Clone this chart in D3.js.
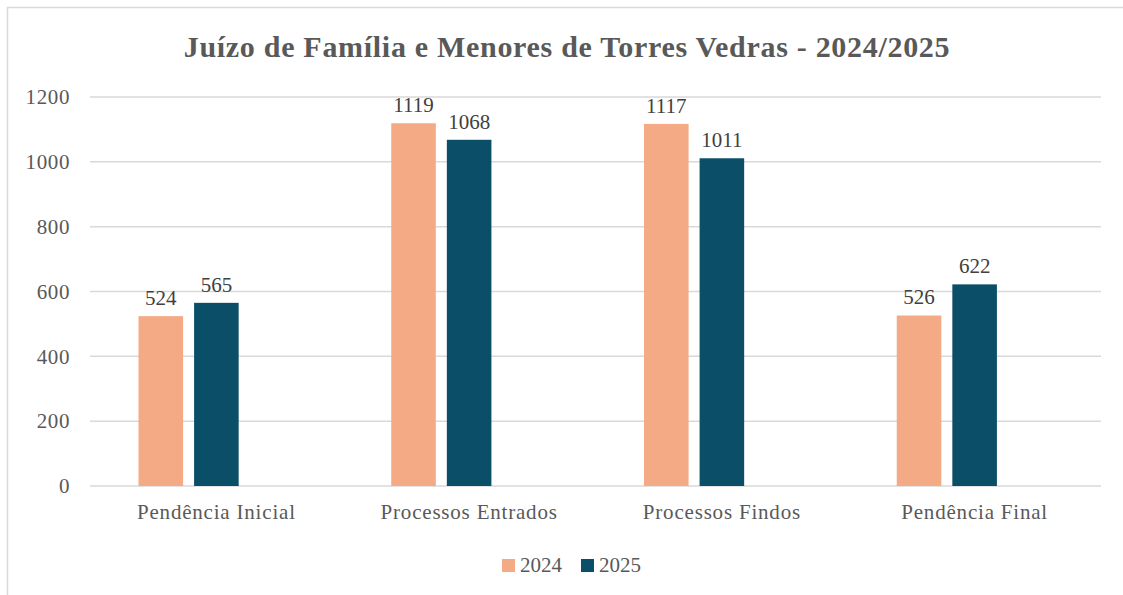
<!DOCTYPE html>
<html>
<head>
<meta charset="utf-8">
<script src="https://cdn.jsdelivr.net/npm/d3@7"></script>
<style>
  html, body { margin: 0; padding: 0; background: #fff; }
  svg { display: block; }
</style>
</head>
<body>
<svg id="chart" width="1123" height="595"></svg>
<script>
// dados do gráfico
const categorias = ["Pendência Inicial", "Processos Entrados", "Processos Findos", "Pendência Final"];
const series = ["2024", "2025"];
const valores2024 = [524, 1119, 1117, 526];
const valores2025 = [565, 1068, 1011, 622];
const ticksY = [0, 200, 400, 600, 800, 1000, 1200];
const cores = { "2024": "#F4AB85", "2025": "#0A4F67" };

const width = 1123, height = 595;
const margin = { top: 97, right: 22, bottom: 109, left: 90 };
const serif = "'Liberation Serif', 'DejaVu Serif', serif";

const svg = d3.select("#chart");

// moldura do gráfico (sai da imagem à direita e em baixo)
svg.append("rect")
    .attr("x", 7.5).attr("y", 7.5)
    .attr("width", 1130).attr("height", 600)
    .attr("fill", "#fff").attr("stroke", "#d9d9d9").attr("stroke-width", 1.5);

// --- escalas ---
const x0 = d3.scaleBand()
    .domain(categorias)
    .range([margin.left, width - margin.right]);

// o Excel reserva um terceiro lugar vazio em cada grupo
const x1 = d3.scaleBand()
    .domain([...series, "_vazio"])
    .range([48.5, x0.bandwidth() - 48.5])
    .paddingInner(0.198);

const y = d3.scaleLinear()
    .domain([0, 1200])
    .range([height - margin.bottom, margin.top]);

// --- grelha ---
svg.append("g")
    .selectAll("line").data(ticksY).enter().append("line")
    .attr("x1", margin.left).attr("x2", width - margin.right)
    .attr("y1", d => y(d)).attr("y2", d => y(d))
    .attr("stroke", "#d9d9d9").attr("stroke-width", 1.5);

// --- eixo Y ---
const eixoY = svg.append("g")
    .attr("transform", `translate(${margin.left},0)`)
    .call(d3.axisLeft(y).tickValues(ticksY).tickFormat(d3.format("d")).tickSize(0).tickPadding(20));
eixoY.select(".domain").remove();
eixoY.selectAll("text")
    .attr("font-family", serif).attr("font-size", 21).attr("letter-spacing", 0.6).attr("fill", "#595959");

// --- barras ---
const linhas = categorias.map((c, i) => ({ cat: c, "2024": valores2024[i], "2025": valores2025[i] }));

const grupos = svg.append("g").selectAll("g").data(linhas).enter().append("g")
    .attr("transform", d => `translate(${x0(d.cat)},0)`);

grupos.selectAll("rect")
    .data(d => series.map(s => ({ s, v: d[s] })))
    .enter().append("rect")
    .attr("x", d => x1(d.s))
    .attr("y", d => y(d.v))
    .attr("width", x1.bandwidth())
    .attr("height", d => y(0) - y(d.v))
    .attr("fill", d => cores[d.s]);

grupos.selectAll("text")
    .data(d => series.map(s => ({ s, v: d[s] })))
    .enter().append("text")
    .attr("x", d => x1(d.s) + x1.bandwidth() / 2)
    .attr("y", d => y(d.v) - 11)
    .attr("text-anchor", "middle")
    .attr("font-family", serif).attr("font-size", 21).attr("fill", "#404040")
    .text(d => d.v);

// --- eixo X ---
const eixoX = svg.append("g")
    .attr("transform", `translate(0,${y(0)})`)
    .call(d3.axisBottom(x0).tickSize(0).tickPadding(18));
eixoX.select(".domain").remove();
eixoX.selectAll("text")
    .attr("font-family", serif).attr("font-size", 21).attr("letter-spacing", 0.8).attr("fill", "#595959");

// --- título ---
svg.append("text")
    .attr("x", 567).attr("y", 57)
    .attr("text-anchor", "middle")
    .attr("font-family", serif).attr("font-size", 30).attr("font-weight", "bold")
    .attr("letter-spacing", 0.7)
    .attr("fill", "#595959")
    .text("Juízo de Família e Menores de Torres Vedras - 2024/2025");

// --- legenda ---
const legenda = svg.append("g").selectAll("g").data(series).enter().append("g")
    .attr("transform", (d, i) => `translate(${502 + i * 79},559)`);
legenda.append("rect")
    .attr("width", 13).attr("height", 13)
    .attr("fill", d => cores[d]);
legenda.append("text")
    .attr("x", 18).attr("y", 13)
    .attr("font-family", serif).attr("font-size", 21).attr("fill", "#595959")
    .text(d => d);
</script>
</body>
</html>
